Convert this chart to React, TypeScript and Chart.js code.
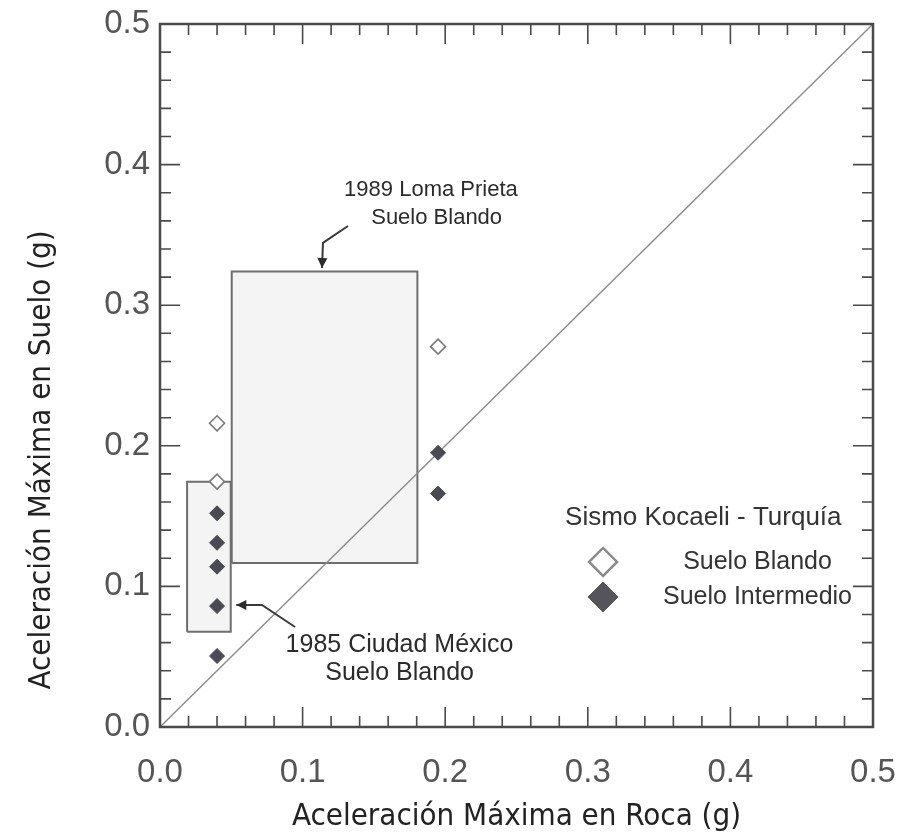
import React, { useEffect, useRef } from 'react';
import { Chart, registerables } from 'chart.js';
import { drawPoint } from 'chart.js/helpers';

Chart.register(...registerables);

// ---- axis ranges / ticks ----
const AXIS_MIN = 0;
const AXIS_MAX = 0.5;
const LABEL_STEP = 0.1;
const FRAME_TICK_STEP = 0.02;

// ---- Sismo Kocaeli - Turquía data ----
const blandoX = [0.04, 0.04, 0.195];
const blandoY = [0.216, 0.1745, 0.2705];
const intermedioX = [0.04, 0.04, 0.04, 0.04, 0.04, 0.195, 0.195];
const intermedioY = [0.152, 0.131, 0.114, 0.086, 0.0505, 0.195, 0.166];

// ---- range boxes ----
const lomaPrietaX = [0.0503, 0.1805];
const lomaPrietaY = [0.1166, 0.324];
const mexicoX = [0.019, 0.0496];
const mexicoY = [0.0678, 0.1745];

// ---- 1:1 line ----
const identityX = [0, 0.5];
const identityY = [0, 0.5];

// ---- texts ----
const X_TITLE = 'Aceleración Máxima en Roca (g)';
const Y_TITLE = 'Aceleración Máxima en Suelo (g)';
const LEGEND_TITLE = 'Sismo Kocaeli - Turquía';
const LEGEND_LABELS = ['Suelo Blando', 'Suelo Intermedio'];
const LOMA_LINES = ['1989 Loma Prieta', 'Suelo Blando'];
const MEXICO_LINES = ['1985 Ciudad México', 'Suelo Blando'];

// ---- annotation placement (data coordinates) ----
const LOMA_TEXT_POS = { x: [0.19, 0.194], y: [0.382, 0.362] };
const MEXICO_TEXT_POS = { x: [0.168, 0.168], y: [0.0585, 0.0385] };
const LOMA_ARROW = { x: [0.1318, 0.1143, 0.1136], y: [0.3563, 0.3443, 0.3265] };
const MEXICO_ARROW = { x: [0.0947, 0.0715, 0.0535], y: [0.0711, 0.0868, 0.0868] };
const LEGEND_POS = { titleX: 0.381, titleY: 0.1487, markerX: 0.3107, textX: 0.419, itemY: [0.1174, 0.0925] };
const Y_TITLE_CENTER = { x: 42, y: 460 };

const FONT = '"Liberation Sans", Arial, Helvetica, sans-serif';
const NARROW = '"Liberation Sans Narrow", "Arial Narrow", "DejaVu Sans Condensed", "Liberation Sans", sans-serif';

const pts = (xs: number[], ys: number[]) => xs.map((x, i) => ({ x, y: ys[i] }));
const rect = (xs: number[], ys: number[]) => [
  { x: xs[0], y: ys[0] },
  { x: xs[0], y: ys[1] },
  { x: xs[1], y: ys[1] },
  { x: xs[1], y: ys[0] },
  { x: xs[0], y: ys[0] },
];

const framePlugin = {
  id: 'frameTicks',
  afterDatasetsDraw(chart: any) {
    const { ctx, chartArea: a, scales } = chart;
    const xs = scales.x;
    const ys = scales.y;
    ctx.save();
    ctx.strokeStyle = '#4a4a4a';
    ctx.lineWidth = 1.6;
    const n = Math.round((AXIS_MAX - AXIS_MIN) / FRAME_TICK_STEP);
    ctx.beginPath();
    for (let k = 1; k < n; k++) {
      const v = AXIS_MIN + k * FRAME_TICK_STEP;
      const len = k % 5 === 0 ? 20 : 11;
      const px = xs.getPixelForValue(v);
      ctx.moveTo(px, a.bottom);
      ctx.lineTo(px, a.bottom - len);
      ctx.moveTo(px, a.top);
      ctx.lineTo(px, a.top + len);
      const py = ys.getPixelForValue(v);
      ctx.moveTo(a.left, py);
      ctx.lineTo(a.left + len, py);
      ctx.moveTo(a.right, py);
      ctx.lineTo(a.right - len, py);
    }
    ctx.stroke();
    ctx.lineWidth = 2.5;
    ctx.strokeRect(a.left, a.top, a.right - a.left, a.bottom - a.top);
    ctx.restore();
  },
};

const drawArrow = (ctx: any, xs: any, ys: any, ax: number[], ay: number[]) => {
  const p = ax.map((x, i) => [xs.getPixelForValue(x), ys.getPixelForValue(ay[i])]);
  ctx.beginPath();
  ctx.moveTo(p[0][0], p[0][1]);
  for (let i = 1; i < p.length; i++) ctx.lineTo(p[i][0], p[i][1]);
  ctx.stroke();
  const [x1, y1] = p[p.length - 2];
  const [x2, y2] = p[p.length - 1];
  const ang = Math.atan2(y2 - y1, x2 - x1);
  const L = 10, W = 5;
  ctx.beginPath();
  ctx.moveTo(x2, y2);
  ctx.lineTo(x2 - L * Math.cos(ang) + W * Math.sin(ang), y2 - L * Math.sin(ang) - W * Math.cos(ang));
  ctx.lineTo(x2 - L * Math.cos(ang) - W * Math.sin(ang), y2 - L * Math.sin(ang) + W * Math.cos(ang));
  ctx.closePath();
  ctx.fill();
};

const annotationPlugin = {
  id: 'annotations',
  afterDraw(chart: any) {
    const { ctx, scales } = chart;
    const xs = scales.x;
    const ys = scales.y;
    ctx.save();
    // y-axis title
    ctx.save();
    ctx.translate(Y_TITLE_CENTER.x, Y_TITLE_CENTER.y);
    ctx.rotate(-Math.PI / 2);
    ctx.fillStyle = '#222';
    ctx.font = `31px ${NARROW}`;
    ctx.textAlign = 'center';
    ctx.textBaseline = 'middle';
    ctx.fillText(Y_TITLE, 0, 0);
    ctx.restore();

    ctx.fillStyle = '#2b2b2b';
    ctx.strokeStyle = '#3a3a3a';
    ctx.lineWidth = 2;
    ctx.textAlign = 'center';
    ctx.textBaseline = 'middle';
    ctx.font = `22px ${FONT}`;
    LOMA_LINES.forEach((t, i) => ctx.fillText(t, xs.getPixelForValue(LOMA_TEXT_POS.x[i]), ys.getPixelForValue(LOMA_TEXT_POS.y[i])));
    ctx.font = `25px ${FONT}`;
    MEXICO_LINES.forEach((t, i) => ctx.fillText(t, xs.getPixelForValue(MEXICO_TEXT_POS.x[i]), ys.getPixelForValue(MEXICO_TEXT_POS.y[i])));
    drawArrow(ctx, xs, ys, LOMA_ARROW.x, LOMA_ARROW.y);
    drawArrow(ctx, xs, ys, MEXICO_ARROW.x, MEXICO_ARROW.y);

    // legend
    ctx.fillStyle = '#333';
    ctx.font = `26px ${FONT}`;
    ctx.fillText(LEGEND_TITLE, xs.getPixelForValue(LEGEND_POS.titleX), ys.getPixelForValue(LEGEND_POS.titleY));
    ctx.font = `25px ${FONT}`;
    LEGEND_LABELS.forEach((t, i) => {
      ctx.fillStyle = '#333';
      ctx.fillText(t, xs.getPixelForValue(LEGEND_POS.textX), ys.getPixelForValue(LEGEND_POS.itemY[i]));
    });
    const mx = xs.getPixelForValue(LEGEND_POS.markerX);
    ctx.fillStyle = '#ffffff';
    ctx.strokeStyle = '#8a8a8a';
    ctx.lineWidth = 2.5;
    drawPoint(ctx, { pointStyle: 'rectRot', radius: 14, rotation: 0, borderWidth: 2.5 } as any, mx, ys.getPixelForValue(LEGEND_POS.itemY[0]));
    ctx.fillStyle = '#55545c';
    ctx.strokeStyle = '#55545c';
    ctx.lineWidth = 1;
    drawPoint(ctx, { pointStyle: 'rectRot', radius: 15, rotation: 0, borderWidth: 1 } as any, mx, ys.getPixelForValue(LEGEND_POS.itemY[1]));
    ctx.restore();
  },
};

export default function App() {
  const ref = useRef<HTMLCanvasElement>(null);
  useEffect(() => {
    const chart = new Chart(ref.current as HTMLCanvasElement, {
      type: 'scatter',
      data: {
        datasets: [
          {
            label: 'Suelo Intermedio',
            data: pts(intermedioX, intermedioY),
            pointStyle: 'rectRot',
            pointRadius: 7.5,
            backgroundColor: '#4a4a52',
            borderColor: '#4a4a52',
            borderWidth: 1,
          },
          {
            label: 'Suelo Blando',
            data: pts(blandoX, blandoY),
            pointStyle: 'rectRot',
            pointRadius: 7.5,
            backgroundColor: '#ffffff',
            borderColor: '#7a7a7a',
            borderWidth: 1.6,
          },
          {
            type: 'line',
            label: '1:1',
            data: pts(identityX, identityY),
            borderColor: '#8a8a8a',
            borderWidth: 1.4,
            pointRadius: 0,
            fill: false,
          } as any,
          {
            type: 'line',
            label: '1989 Loma Prieta',
            data: rect(lomaPrietaX, lomaPrietaY),
            borderColor: '#6e6e6e',
            borderWidth: 2,
            backgroundColor: 'rgba(205,205,205,0.22)',
            pointRadius: 0,
            fill: 'shape',
          } as any,
          {
            type: 'line',
            label: '1985 Ciudad México',
            data: rect(mexicoX, mexicoY),
            borderColor: '#6e6e6e',
            borderWidth: 2,
            backgroundColor: 'rgba(205,205,205,0.22)',
            pointRadius: 0,
            fill: 'shape',
          } as any,
        ],
      },
      options: {
        animation: false,
        responsive: true,
        maintainAspectRatio: false,
        layout: { padding: { left: 0, top: 24, right: 25, bottom: 0 } },
        plugins: { legend: { display: false }, tooltip: { enabled: false } },
        scales: {
          x: {
            type: 'linear',
            min: AXIS_MIN,
            max: AXIS_MAX,
            position: 'bottom',
            grid: { display: false, drawTicks: false },
            border: { display: false },
            ticks: {
              stepSize: LABEL_STEP,
              autoSkip: false,
              maxRotation: 0,
              padding: 26,
              color: '#555',
              font: { family: FONT, size: 33 },
              callback: (v: any) => Number(v).toFixed(1),
            },
            title: {
              display: true,
              text: X_TITLE,
              color: '#222',
              font: { family: NARROW, size: 31 },
              padding: { top: 0, bottom: 2 },
            },
            afterFit: (s: any) => {
              s.height = 111;
              s.paddingLeft = 0;
              s.paddingRight = 0;
            },
          },
          y: {
            type: 'linear',
            min: AXIS_MIN,
            max: AXIS_MAX,
            position: 'left',
            grid: { display: false, drawTicks: false },
            border: { display: false },
            ticks: {
              stepSize: LABEL_STEP,
              autoSkip: false,
              padding: 10,
              color: '#555',
              font: { family: FONT, size: 33 },
              callback: (v: any) => Number(v).toFixed(1),
            },
            title: { display: false, text: Y_TITLE },
            afterFit: (s: any) => {
              s.width = 160;
              s.paddingTop = 0;
              s.paddingBottom = 0;
            },
          },
        },
      },
      plugins: [framePlugin, annotationPlugin],
    } as any);
    return () => chart.destroy();
  }, []);
  return (
    <div style={{ position: 'absolute', left: 0, top: 0, width: 898, height: 838, background: '#fff' }}>
      <canvas ref={ref} />
    </div>
  );
}
